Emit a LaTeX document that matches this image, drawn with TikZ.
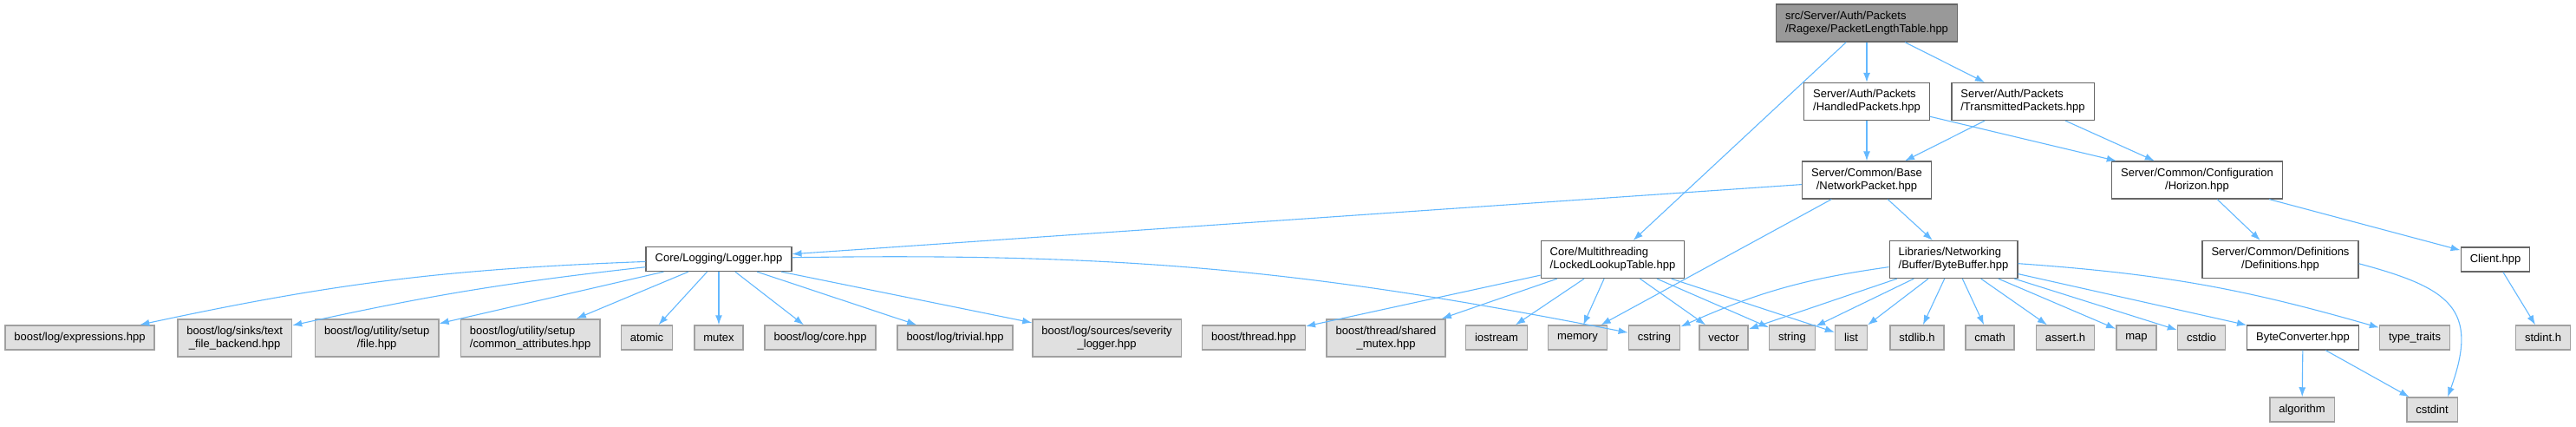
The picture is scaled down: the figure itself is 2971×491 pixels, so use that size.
\documentclass[tikz,border=0pt]{standalone}
\usepackage{fontspec}
\setmainfont{Liberation Sans}
\usetikzlibrary{arrows.meta}
\usepackage{xcolor}
\definecolor{EdgeBlue}{HTML}{63B8FF}
\definecolor{SysGray}{HTML}{E0E0E0}
\definecolor{SysBorder}{HTML}{A0A0A0}
\definecolor{FileBorder}{HTML}{666666}
\definecolor{RootGray}{HTML}{999999}

\begin{document}
\begin{tikzpicture}[
x=1pt,y=-1pt,
file/.style={rectangle,draw=FileBorder,fill=white,line width=1.3pt,inner xsep=10.5pt,inner ysep=2pt,
minimum height=28pt,align=center,font=\fontsize{13}{15}\selectfont},
two/.style={minimum height=43pt},
lft/.style={align=left},
sys/.style={file,draw=SysBorder,fill=SysGray,line width=1.5pt},
rootbox/.style={file,fill=RootGray},
arrow/.style={-{Latex[length=11pt,width=8pt]},line width=1.1pt,draw=EdgeBlue}
]
\useasboundingbox (0,0) rectangle (2971,491);

% project headers
\node[rootbox,two,lft] (root) at (2153,26.5) {src/Server/Auth/Packets\\/Ragexe/PacketLengthTable.hpp};
\node[file,two,lft] (handled) at (2153,117) {Server/Auth/Packets\\/HandledPackets.hpp};
\node[file,two,lft] (transm) at (2333,117) {Server/Auth/Packets\\/TransmittedPackets.hpp};
\node[file,two] (netpkt) at (2153,207.5) {Server/Common/Base\\/NetworkPacket.hpp};
\node[file,two] (horizon) at (2534,207.5) {Server/Common/Configuration\\/Horizon.hpp};
\node[file] (logger) at (829,298.5) {Core/Logging/Logger.hpp};
\node[file,two,lft] (locked) at (1860,299) {Core/Multithreading\\/LockedLookupTable.hpp};
\node[file,two,lft] (bytebuf) at (2253,299) {Libraries/Networking\\/Buffer/ByteBuffer.hpp};
\node[file,two] (defs) at (2630,299) {Server/Common/Definitions\\/Definitions.hpp};
\node[file] (client) at (2878,299) {Client.hpp};
\node[file] (byteconv) at (2656,389) {ByteConverter.hpp};

% system headers
\node[sys] (expr) at (92,389) {boost/log/expressions.hpp};
\node[sys,two] (textfile) at (270.7,389.3) {boost/log/sinks/text\\\_file\_backend.hpp};
\node[sys,two] (setupfile) at (434.7,389.3) {boost/log/utility/setup\\/file.hpp};
\node[sys,two,lft] (commonattr) at (611.7,389.3) {boost/log/utility/setup\\/common\_attributes.hpp};
\node[sys] (atomic) at (746,389) {atomic};
\node[sys] (mutex) at (829,389) {mutex};
\node[sys] (logcore) at (946,389) {boost/log/core.hpp};
\node[sys] (trivial) at (1101.5,389) {boost/log/trivial.hpp};
\node[sys,two] (sevlog) at (1276.6,389.3) {boost/log/sources/severity\\\_logger.hpp};
\node[sys] (bthread) at (1446,389) {boost/thread.hpp};
\node[sys,two] (sharedmtx) at (1598.5,389.3) {boost/thread/shared\\\_mutex.hpp};
\node[sys] (iostream) at (1726,389) {iostream};
\node[sys] (memory) at (1819.5,389) {memory};
\node[sys] (cstring) at (1908,389) {cstring};
\node[sys] (vector) at (1988,389) {vector};
\node[sys] (string) at (2067,389) {string};
\node[sys] (list) at (2135,389) {list};
\node[sys] (stdlib) at (2211,389) {stdlib.h};
\node[sys] (cmath) at (2295,389) {cmath};
\node[sys] (assert) at (2382,389) {assert.h};
\node[sys] (map) at (2464,389) {map};
\node[sys] (cstdio) at (2539,389) {cstdio};
\node[sys] (typetraits) at (2785,389) {type\_traits};
\node[sys] (stdint) at (2933,389) {stdint.h};
\node[sys] (algorithm) at (2655,472) {algorithm};
\node[sys] (cstdint) at (2805,472) {cstdint};

% includes
\draw[arrow] (root)--(handled); \draw[arrow] (root)--(transm); \draw[arrow] (root)--(locked);
\draw[arrow] (handled)--(netpkt); \draw[arrow] (handled)--(horizon);
\draw[arrow] (transm)--(netpkt); \draw[arrow] (transm)--(horizon);
\draw[arrow] (netpkt)--(logger); \draw[arrow] (netpkt)--(memory); \draw[arrow] (netpkt)--(bytebuf);
\draw[arrow] (horizon)--(defs); \draw[arrow] (horizon)--(client);
\draw[arrow] (defs.357) to[out=-15,in=70,looseness=1.5] ([xshift=-12pt]cstdint.north east);
\draw[arrow] (client)--(stdint);
\draw[arrow] (logger) to[bend right=5] (expr); \draw[arrow] (logger) to[bend right=3] (textfile);
\draw[arrow] (logger)--(setupfile); \draw[arrow] (logger)--(commonattr); \draw[arrow] (logger)--(atomic);
\draw[arrow] (logger)--(mutex); \draw[arrow] (logger)--(logcore); \draw[arrow] (logger)--(trivial);
\draw[arrow] (logger)--(sevlog); \draw[arrow] (logger) to[bend left=6] (cstring);
\draw[arrow] (locked)--(bthread); \draw[arrow] (locked)--(sharedmtx); \draw[arrow] (locked)--(iostream);
\draw[arrow] (locked)--(memory); \draw[arrow] (locked)--(vector); \draw[arrow] (locked)--(string);
\draw[arrow] (locked)--(list);
\draw[arrow] (bytebuf) to[bend right=8] (cstring); \draw[arrow] (bytebuf)--(vector); \draw[arrow] (bytebuf)--(string);
\draw[arrow] (bytebuf)--(list); \draw[arrow] (bytebuf)--(stdlib); \draw[arrow] (bytebuf)--(cmath);
\draw[arrow] (bytebuf)--(assert); \draw[arrow] (bytebuf)--(map); \draw[arrow] (bytebuf)--(cstdio);
\draw[arrow] (bytebuf)--(byteconv); \draw[arrow] (bytebuf) to[bend left=6] (typetraits);
\draw[arrow] (byteconv)--(algorithm); \draw[arrow] (byteconv)--(cstdint);
\end{tikzpicture}
\end{document}
